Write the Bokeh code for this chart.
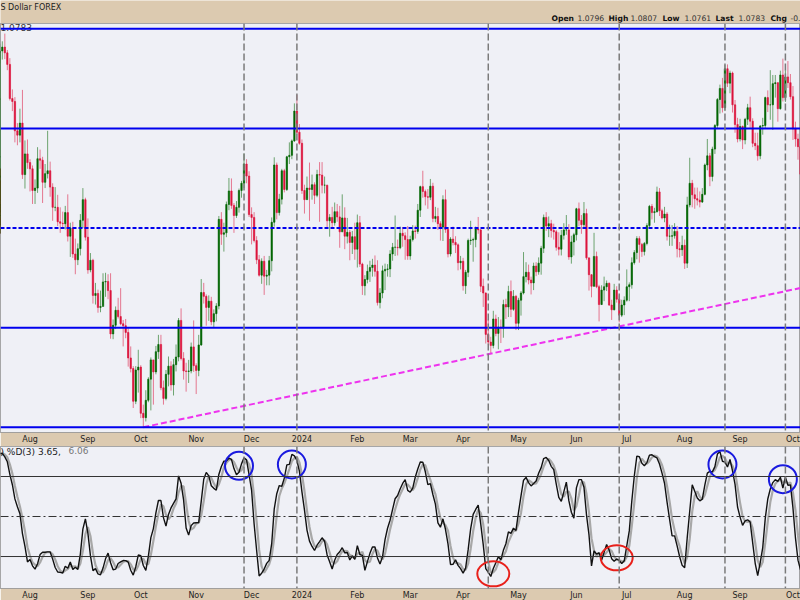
import numpy as np
import pandas as pd
from bokeh.plotting import figure
from bokeh.models import Range1d, Span, FixedTicker, ColumnDataSource, CustomJSTickFormatter, Label
from bokeh.layouts import column
from bokeh.core.properties import value
from bokeh.embed import file_html
from bokeh.resources import INLINE

# ---------------- data (EUR/USD daily) ----------------
first_open = 1.0930
high = [
    # 2023 Jun 20 - Jul 12
    1.0936, 1.0990, 1.1012, 1.0962, 1.0922, 1.0976, 1.0965, 1.0925, 1.0931, 1.0935, 1.0912, 1.0890, 1.0904, 1.0975, 1.0999, 1.1014, 1.1140,
    # Jul 13 - 31
    1.1233, 1.1245, 1.1250, 1.1266, 1.1232, 1.1215, 1.1150, 1.1134, 1.1080, 1.1110, 1.1149, 1.1044, 1.1046,
    # Aug
    1.1005, 1.0992, 1.0963, 1.1030, 1.1025, 1.1010, 1.0995, 1.1064, 1.1000, 1.0955, 1.0947, 1.0931, 1.0905, 1.0896, 1.0908, 1.0932, 1.0873, 1.0875, 1.0840, 1.0830, 1.0891, 1.0945, 1.0925,
    # Sep
    1.0882, 1.0810, 1.0798, 1.0748, 1.0734, 1.0732, 1.0768, 1.0769, 1.0766, 1.0768, 1.0672, 1.0699, 1.0717, 1.0737, 1.0671, 1.0673, 1.0654, 1.0616, 1.0575, 1.0575, 1.0609,
    # Oct
    1.0577, 1.0495, 1.0525, 1.0552, 1.0593, 1.0578, 1.0617, 1.0640, 1.0640, 1.0545, 1.0567, 1.0595, 1.0585, 1.0590, 1.0620, 1.0675, 1.0695, 1.0604, 1.0582, 1.0588, 1.0624, 1.0670,
    # Nov
    1.0581, 1.0640, 1.0756, 1.0748, 1.0724, 1.0722, 1.0719, 1.0693, 1.0706, 1.0887, 1.0895, 1.0873, 1.0917, 1.0966, 1.0965, 1.0914, 1.0918, 1.0944, 1.0960, 1.1017, 1.1005, 1.0980,
    # Dec
    1.0905, 1.0895, 1.0845, 1.0806, 1.0799, 1.0804, 1.0775, 1.0804, 1.0884, 1.1009, 1.0998, 1.0933, 1.0985, 1.0985, 1.1012, 1.1040, 1.1046, 1.1121, 1.1139, 1.1078,
    # 2024 Jan
    1.1046, 1.0952, 1.0969, 1.0998, 1.0973, 1.0957, 1.0983, 1.0999, 1.0999, 1.0969, 1.0952, 1.0891, 1.0906, 1.0915, 1.0912, 1.0908, 1.0932, 1.0905, 1.0883, 1.0858, 1.0856, 1.0873,
    # Feb
    1.0890, 1.0887, 1.0790, 1.0764, 1.0786, 1.0794, 1.0798, 1.0805, 1.0795, 1.0737, 1.0784, 1.0788, 1.0787, 1.0816, 1.0831, 1.0888, 1.0838, 1.0865, 1.0864, 1.0853, 1.0866,
    # Mar
    1.0846, 1.0868, 1.0867, 1.0912, 1.0950, 1.0981, 1.0942, 1.0943, 1.0964, 1.0956, 1.0906, 1.0904, 1.0876, 1.0930, 1.0942, 1.0864, 1.0843, 1.0865, 1.0845, 1.0830, 1.0804,
    # Apr
    1.0800, 1.0775, 1.0840, 1.0877, 1.0842, 1.0865, 1.0885, 1.0860, 1.0757, 1.0728, 1.0672, 1.0636, 1.0690, 1.0682, 1.0677, 1.0672, 1.0713, 1.0715, 1.0742, 1.0753, 1.0733, 1.0723,
    # May
    1.0717, 1.0731, 1.0812, 1.0791, 1.0786, 1.0761, 1.0790, 1.0791, 1.0801, 1.0825, 1.0890, 1.0895, 1.0886, 1.0879, 1.0871, 1.0858, 1.0853, 1.0858, 1.0872, 1.0889, 1.0870, 1.0846, 1.0852,
    # Jun
    1.0904, 1.0915, 1.0889, 1.0916, 1.0902, 1.0800, 1.0766, 1.0852, 1.0813, 1.0744, 1.0743, 1.0761, 1.0753, 1.0749, 1.0713, 1.0746, 1.0741, 1.0722, 1.0713, 1.0720,
    # Jul
    1.0776, 1.0749, 1.0801, 1.0816, 1.0845, 1.0845, 1.0831, 1.0833, 1.0872, 1.0910, 1.0912, 1.0904, 1.0948, 1.0945, 1.0902, 1.0906, 1.0895, 1.0869, 1.0868, 1.0872, 1.0866, 1.0833, 1.0846,
    # Aug
    1.0838, 1.0927, 1.1008, 1.0962, 1.0946, 1.0946, 1.0938, 1.0945, 1.0996, 1.1047, 1.1018, 1.1031, 1.1078, 1.1132, 1.1160, 1.1174, 1.1201, 1.1202, 1.1189, 1.1187, 1.1128, 1.1091,
    # Sep
    1.1089, 1.1075, 1.1091, 1.1120, 1.1135, 1.1090, 1.1060, 1.1060, 1.1076, 1.1091, 1.1135, 1.1148, 1.1190, 1.1180, 1.1180, 1.1165, 1.1189, 1.1214, 1.1190, 1.1209, 1.1182,
    # Oct 1 - 7
    1.1157, 1.1083, 1.1058, 1.1052, 1.0983,
]
low = [
    1.0902, 1.0917, 1.0935, 1.0844, 1.0890, 1.0899, 1.0898, 1.0834, 1.0866, 1.0889, 1.0873, 1.0833, 1.0834, 1.0880, 1.0945, 1.0967, 1.1001,
    1.1126, 1.1204, 1.1212, 1.1213, 1.1190, 1.1127, 1.1105, 1.1040, 1.1034, 1.1040, 1.0964, 1.0944, 1.0985,
    1.0938, 1.0912, 1.0912, 1.0935, 1.0985, 1.0914, 1.0945, 1.0965, 1.0927, 1.0877, 1.0897, 1.0866, 1.0852, 1.0863, 1.0859, 1.0834, 1.0802, 1.0800, 1.0766, 1.0785, 1.0805, 1.0862, 1.0836,
    1.0767, 1.0770, 1.0705, 1.0703, 1.0686, 1.0687, 1.0702, 1.0719, 1.0714, 1.0632, 1.0631, 1.0652, 1.0674, 1.0660, 1.0616, 1.0633, 1.0574, 1.0562, 1.0488, 1.0496, 1.0520,
    1.0467, 1.0448, 1.0460, 1.0500, 1.0483, 1.0495, 1.0558, 1.0590, 1.0525, 1.0495, 1.0504, 1.0533, 1.0524, 1.0514, 1.0564, 1.0585, 1.0587, 1.0547, 1.0522, 1.0540, 1.0560, 1.0563,
    1.0517, 1.0554, 1.0617, 1.0705, 1.0659, 1.0669, 1.0660, 1.0656, 1.0668, 1.0693, 1.0827, 1.0813, 1.0843, 1.0899, 1.0902, 1.0852, 1.0883, 1.0894, 1.0925, 1.0945, 1.0955, 1.0885,
    1.0828, 1.0832, 1.0787, 1.0761, 1.0746, 1.0723, 1.0743, 1.0743, 1.0772, 1.0865, 1.0880, 1.0888, 1.0911, 1.0936, 1.0939, 1.0995, 1.1005, 1.1041, 1.1057, 1.1035,
    1.0933, 1.0892, 1.0924, 1.0877, 1.0921, 1.0912, 1.0926, 1.0875, 1.0934, 1.0934, 1.0860, 1.0844, 1.0864, 1.0867, 1.0875, 1.0821, 1.0858, 1.0818, 1.0830, 1.0795, 1.0808, 1.0796,
    1.0780, 1.0781, 1.0723, 1.0722, 1.0747, 1.0750, 1.0761, 1.0761, 1.0701, 1.0695, 1.0716, 1.0733, 1.0761, 1.0760, 1.0794, 1.0804, 1.0805, 1.0818, 1.0823, 1.0796, 1.0796,
    1.0796, 1.0834, 1.0840, 1.0850, 1.0885, 1.0925, 1.0909, 1.0902, 1.0920, 1.0874, 1.0874, 1.0858, 1.0836, 1.0835, 1.0852, 1.0801, 1.0803, 1.0826, 1.0810, 1.0774, 1.0776,
    1.0732, 1.0725, 1.0760, 1.0827, 1.0792, 1.0822, 1.0850, 1.0729, 1.0698, 1.0622, 1.0620, 1.0601, 1.0612, 1.0637, 1.0610, 1.0623, 1.0634, 1.0673, 1.0677, 1.0677, 1.0690, 1.0650,
    1.0650, 1.0680, 1.0724, 1.0749, 1.0745, 1.0724, 1.0733, 1.0762, 1.0765, 1.0765, 1.0810, 1.0856, 1.0843, 1.0842, 1.0838, 1.0815, 1.0805, 1.0805, 1.0838, 1.0848, 1.0796, 1.0788, 1.0805,
    1.0836, 1.0866, 1.0850, 1.0864, 1.0796, 1.0732, 1.0718, 1.0740, 1.0737, 1.0668, 1.0702, 1.0710, 1.0731, 1.0700, 1.0671, 1.0691, 1.0707, 1.0666, 1.0677, 1.0681,
    1.0709, 1.0710, 1.0736, 1.0786, 1.0797, 1.0790, 1.0802, 1.0805, 1.0826, 1.0862, 1.0880, 1.0873, 1.0894, 1.0887, 1.0880, 1.0874, 1.0836, 1.0825, 1.0825, 1.0840, 1.0801, 1.0801, 1.0804,
    1.0777, 1.0779, 1.0905, 1.0905, 1.0902, 1.0909, 1.0905, 1.0914, 1.0930, 1.0982, 1.0949, 1.0959, 1.1016, 1.1070, 1.1100, 1.1102, 1.1105, 1.1155, 1.1142, 1.1102, 1.1060, 1.1040,
    1.1042, 1.1026, 1.1036, 1.1076, 1.1070, 1.1030, 1.1024, 1.1002, 1.1005, 1.1056, 1.1070, 1.1103, 1.1087, 1.1066, 1.1133, 1.1083, 1.1108, 1.1125, 1.1124, 1.1153, 1.1129,
    1.1045, 1.1031, 1.1004, 1.0951, 1.0956,
]
close = [
    1.0920, 1.0985, 1.0955, 1.0895, 1.0905, 1.0960, 1.0913, 1.0868, 1.0910, 1.0910, 1.0880, 1.0851, 1.0888, 1.0968, 1.0970, 1.1010, 1.1130,
    1.1227, 1.1230, 1.1238, 1.1226, 1.1202, 1.1131, 1.1125, 1.1064, 1.1055, 1.1080, 1.0973, 1.1016, 1.0998,
    1.0985, 1.0940, 1.0945, 1.1006, 1.1003, 1.0957, 1.0975, 1.0981, 1.0947, 1.0905, 1.0905, 1.0875, 1.0872, 1.0871, 1.0894, 1.0845, 1.0862, 1.0808, 1.0796, 1.0819, 1.0878, 1.0921, 1.0843,
    1.0775, 1.0795, 1.0722, 1.0726, 1.0697, 1.0699, 1.0750, 1.0751, 1.0732, 1.0642, 1.0660, 1.0691, 1.0678, 1.0663, 1.0659, 1.0645, 1.0592, 1.0570, 1.0502, 1.0567, 1.0573,
    1.0477, 1.0468, 1.0504, 1.0548, 1.0588, 1.0563, 1.0605, 1.0620, 1.0530, 1.0508, 1.0558, 1.0575, 1.0536, 1.0578, 1.0594, 1.0670, 1.0591, 1.0565, 1.0564, 1.0565, 1.0615, 1.0576,
    1.0566, 1.0619, 1.0728, 1.0720, 1.0697, 1.0710, 1.0667, 1.0684, 1.0700, 1.0880, 1.0849, 1.0852, 1.0911, 1.0939, 1.0909, 1.0888, 1.0905, 1.0940, 1.0955, 1.0995, 1.0970, 1.0890,
    1.0884, 1.0836, 1.0796, 1.0764, 1.0793, 1.0762, 1.0764, 1.0794, 1.0874, 1.0993, 1.0894, 1.0922, 1.0981, 1.0942, 1.1010, 1.1013, 1.1043, 1.1105, 1.1061, 1.1038,
    1.0940, 1.0921, 1.0945, 1.0942, 1.0952, 1.0930, 1.0973, 1.0972, 1.0951, 1.0951, 1.0877, 1.0884, 1.0873, 1.0896, 1.0885, 1.0854, 1.0883, 1.0845, 1.0853, 1.0832, 1.0844, 1.0818,
    1.0873, 1.0787, 1.0742, 1.0755, 1.0772, 1.0780, 1.0785, 1.0772, 1.0707, 1.0727, 1.0773, 1.0776, 1.0777, 1.0808, 1.0822, 1.0822, 1.0821, 1.0851, 1.0846, 1.0838, 1.0804,
    1.0838, 1.0856, 1.0855, 1.0899, 1.0948, 1.0938, 1.0927, 1.0926, 1.0949, 1.0882, 1.0886, 1.0871, 1.0864, 1.0921, 1.0859, 1.0808, 1.0839, 1.0832, 1.0827, 1.0790, 1.0793,
    1.0742, 1.0770, 1.0836, 1.0837, 1.0838, 1.0860, 1.0858, 1.0741, 1.0727, 1.0641, 1.0625, 1.0618, 1.0673, 1.0643, 1.0656, 1.0654, 1.0703, 1.0698, 1.0730, 1.0693, 1.0720, 1.0664,
    1.0712, 1.0727, 1.0761, 1.0770, 1.0754, 1.0748, 1.0783, 1.0771, 1.0789, 1.0820, 1.0884, 1.0866, 1.0871, 1.0857, 1.0854, 1.0822, 1.0818, 1.0847, 1.0858, 1.0858, 1.0802, 1.0833, 1.0848,
    1.0902, 1.0878, 1.0869, 1.0892, 1.0800, 1.0765, 1.0741, 1.0803, 1.0740, 1.0703, 1.0733, 1.0740, 1.0747, 1.0702, 1.0692, 1.0733, 1.0714, 1.0681, 1.0702, 1.0712,
    1.0740, 1.0744, 1.0790, 1.0811, 1.0840, 1.0828, 1.0813, 1.0830, 1.0867, 1.0907, 1.0894, 1.0896, 1.0937, 1.0898, 1.0883, 1.0891, 1.0845, 1.0845, 1.0846, 1.0855, 1.0819, 1.0817, 1.0826,
    1.0789, 1.0910, 1.0955, 1.0931, 1.0923, 1.0920, 1.0916, 1.0932, 1.0993, 1.1012, 1.0969, 1.1026, 1.1075, 1.1129, 1.1152, 1.1112, 1.1193, 1.1163, 1.1184, 1.1118, 1.1077, 1.1047,
    1.1073, 1.1045, 1.1088, 1.1112, 1.1084, 1.1038, 1.1033, 1.1012, 1.1074, 1.1075, 1.1133, 1.1118, 1.1118, 1.1162, 1.1164, 1.1110, 1.1180, 1.1133, 1.1176, 1.1164, 1.1135,
    1.1068, 1.1047, 1.1031, 1.0974, 1.0975,
]

levels = [1.0448, 1.0655, 1.0862, 1.1069, 1.1276]
level_dashes = ["solid", "solid", "4 2", "solid", "solid"]
event_dates = ["2023-11-28", "2023-12-28", "2024-04-15", "2024-06-26", "2024-08-23", "2024-09-26"]
peak_dates = ["2023-11-24", "2023-12-26", "2024-08-22", "2024-09-25"]
peak_circle_values = [88, 89, 89, 78]
trough_dates = ["2024-04-17", "2024-06-25"]
trough_circle_values = [7, 19]
trend_dates = ["2023-10-03", "2024-04-16"]
sto_levels = [20, 50, 80]
header_fields = [("Open", "1.0796"), ("High", "1.0807"), ("Low", "1.0761"), ("Last", "1.0783"), ("Chg", "-0.")]
last_value = "1.0783"
sto_k_last, sto_d_last = "3.65", "6.06"

# ---------------- styling ----------------
TAN = "#dccab0"
BG = "#eff0f6"
FONT = "DejaVu Sans"
UP, DOWN = "#006400", "#dc143c"

dates = pd.bdate_range("2023-06-20", "2024-10-07")
dates = dates[~dates.isin(pd.to_datetime(["2023-12-25", "2024-01-01"]))]
n = min(len(close), len(high), len(low), len(dates))
dates = dates[:n]
c = np.array(close[:n]); h = np.array(high[:n]); l = np.array(low[:n])
o = np.concatenate([[first_open], c[:-1]])
pos = np.arange(n, dtype=float)


def idx(d):
    return int(np.searchsorted(dates.values, np.datetime64(pd.Timestamp(d))))


a0 = idx("2023-08-01")
PX = 2.518
xr = Range1d(a0 - 29.5 / PX, a0 + (800 - 29.5) / PX)

# stochastic (full 14,3,3)
cs = pd.Series(c)
hh = pd.Series(h).rolling(14).max()
ll = pd.Series(l).rolling(14).min()
fast = 100 * (cs - ll) / (hh - ll)
k = fast.rolling(3).mean()
d = k.rolling(3).mean()

# month ticks
per = pd.Series(dates.to_period("M"))
first = per.ne(per.shift()).values
month_pos = [float(v) for v in pos[first]]
month_names = [(str(t.year) if t.month == 1 else t.strftime("%b")) for t in dates[first]]
year_pos = [mp for mp, nm in zip(month_pos, month_names) if nm.isdigit()]
fmt = CustomJSTickFormatter(args=dict(mpos=month_pos, mnames=month_names),
                            code="const i = mpos.indexOf(tick); return i >= 0 ? mnames[i] : '';")


def style_xaxis(fig):
    ax = fig.xaxis[0]
    ax.ticker = FixedTicker(ticks=month_pos)
    ax.formatter = fmt
    ax.major_tick_line_color = None
    ax.minor_tick_line_color = None
    ax.major_tick_out = 0
    ax.major_tick_in = 0
    ax.minor_tick_out = 0
    ax.minor_tick_in = 0
    ax.axis_line_color = None
    ax.major_label_text_font = FONT
    ax.major_label_text_font_size = "8px"
    ax.major_label_text_color = "#222222"
    ax.major_label_standoff = 2
    for yp in year_pos:
        fig.add_layout(Label(x=yp, y=-6.5, y_units="screen", text=month_names[month_pos.index(yp)],
                             text_font=FONT, text_font_size="8px", text_font_style="bold",
                             text_color="#222222", text_align="center", text_baseline="middle",
                             background_fill_color=TAN))


# ---------------- header ----------------
hdr = figure(frame_width=800, frame_height=23, x_range=Range1d(0, 800), y_range=Range1d(23, 0),
             toolbar_location=None, output_backend="svg", min_border=0,
             x_axis_location=None, y_axis_location=None, outline_line_color=None,
             background_fill_color=TAN, border_fill_color=TAN)
hdr.grid.visible = False
hdr.text(x=[0], y=[7], text=["S Dollar FOREX"], text_font=value(FONT), text_font_size="8px",
         text_baseline="middle", text_color="#222222")
lab_x = [551, 608, 662, 715, 770]
num_x = [577, 630, 684, 738, 790]
hdr.text(x=lab_x, y=[17.5] * 5, text=[f[0] for f in header_fields], text_font=value(FONT),
         text_font_size="7.6px", text_font_style="bold", text_baseline="middle", text_color="#111111")
hdr.text(x=num_x, y=[17.5] * 5, text=[f[1] for f in header_fields], text_font=value(FONT),
         text_font_size="7.6px", text_baseline="middle", text_color="#333333")

# ---------------- price panel ----------------
p = figure(frame_width=800, frame_height=409, x_range=xr, y_range=Range1d(1.04371, 1.12870),
           toolbar_location=None, output_backend="svg", y_axis_location=None,
           min_border_left=0, min_border_right=0, min_border_top=0, min_border_bottom=13,
           background_fill_color=BG, border_fill_color=TAN,
           outline_line_color="#555555", outline_line_dash="1 1")
p.grid.visible = False
style_xaxis(p)

up = c >= o
src = ColumnDataSource(dict(x=pos, hi=h, lo=l, top=np.maximum(o, c), bot=np.minimum(o, c),
                            col=np.where(up, UP, DOWN)))
p.segment(x0="x", y0="lo", x1="x", y1="hi", line_color="col", line_alpha=0.55, line_width=1, source=src)
p.vbar(x="x", width=0.55, top="top", bottom="bot", fill_color="col", line_color="col",
       line_width=0.6, source=src)

for lv, ds in zip(levels, level_dashes):
    p.add_layout(Span(location=lv, dimension="width", line_color="#0000ee", line_width=2, line_dash=ds))

# trend line through the two lows
t0, t1 = idx(trend_dates[0]), idx(trend_dates[1])
slope = (l[t1] - l[t0]) / (t1 - t0)
p.line([t0, xr.end], [l[t0], l[t0] + slope * (xr.end - t0)], line_color="#ee33ee",
       line_width=2, line_dash="6 3")

p.text(x=[xr.start], y=[1.12870], text=[last_value], text_font=value(FONT), text_font_size="9px",
       text_baseline="top", text_color="#333333")

# ---------------- stochastic panel ----------------
s = figure(frame_width=800, frame_height=142, x_range=xr, y_range=Range1d(-3.98, 102.5),
           toolbar_location=None, output_backend="svg", y_axis_location=None,
           min_border_left=0, min_border_right=0, min_border_top=0, min_border_bottom=13,
           background_fill_color=BG, border_fill_color=TAN,
           outline_line_color="#555555", outline_line_dash="1 1")
s.grid.visible = False
style_xaxis(s)

for lv in sto_levels:
    s.add_layout(Span(location=lv, dimension="width", line_color="#333333", line_width=1,
                      line_dash="8 3 2 3" if lv == 50 else "solid"))

ssrc = ColumnDataSource(dict(x=pos, k=k.values, d=d.values))
s.line("x", "d", source=ssrc, line_color="#a8a8a8", line_width=2.2)
s.line("x", "k", source=ssrc, line_color="#111111", line_width=1.4)

pk = [idx(t) for t in peak_dates]
tr = [idx(t) for t in trough_dates]
s.ellipse(x=pk, y=peak_circle_values, width=28, height=28, width_units="screen",
          height_units="screen", fill_color=None, line_color="#1a1adf", line_width=2)
s.ellipse(x=tr, y=trough_circle_values, width=32, height=25, width_units="screen",
          height_units="screen", fill_color=None, line_color="#e8201a", line_width=2)

s.text(x=[xr.start], y=[102.3], text=[") %D(3) " + sto_k_last + ", "], text_font=value(FONT),
       text_font_size="9px", text_baseline="top", text_color="#222222")
s.text(x=[xr.start], y=[102.3], text=[sto_d_last], x_offset=68, text_font=value(FONT),
       text_font_size="9px", text_baseline="top", text_color="#777777")

for e in event_dates:
    ei = idx(e)
    for fig in (p, s):
        fig.add_layout(Span(location=ei, dimension="height", line_color="#7a7a7a",
                            line_width=1.5, line_dash="7 3"))

layout = column(hdr, p, s, spacing=0,
                styles={"position": "absolute", "left": "0px", "top": "0px"})
open("out.html", "w").write(file_html(layout, INLINE))
